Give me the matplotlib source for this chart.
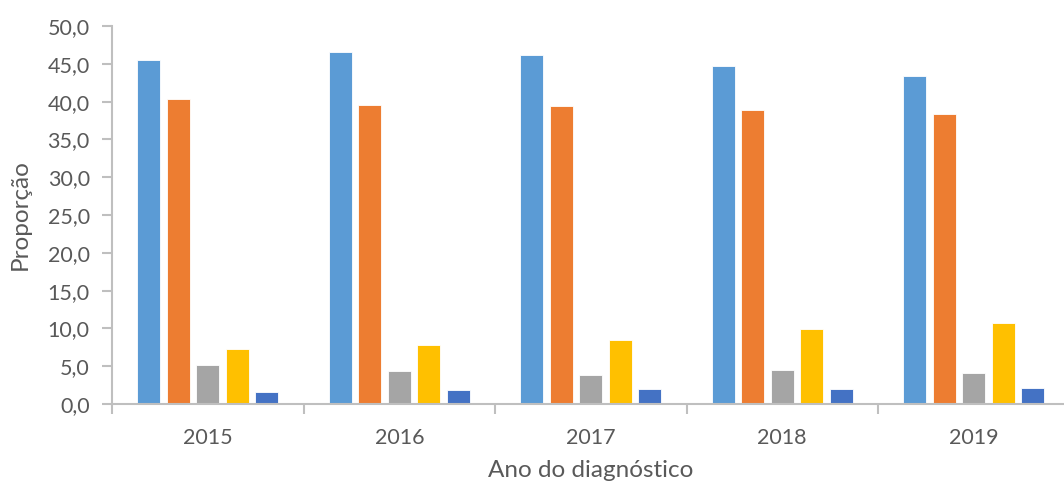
import matplotlib
matplotlib.use("Agg")
import matplotlib.pyplot as plt
from matplotlib.ticker import FixedLocator, FuncFormatter

years = ["2015", "2016", "2017", "2018", "2019"]
serie1 = [45.5, 46.6, 46.2, 44.75, 43.4]
serie2 = [40.3, 39.5, 39.4, 38.9, 38.4]
serie3 = [5.1, 4.4, 3.9, 4.5, 4.1]
serie4 = [7.3, 7.8, 8.4, 9.9, 10.7]
serie5 = [1.65, 1.9, 2.05, 1.95, 2.1]
series = [serie1, serie2, serie3, serie4, serie5]
colors = ["#5B9BD5", "#ED7D31", "#A5A5A5", "#FFC000", "#4472C4"]

plt.rcParams['font.family'] = ['Lato', 'DejaVu Sans']
W, H = 1064, 486
fig = plt.figure(figsize=(W/100, H/100), dpi=100)
ax = fig.add_axes([112/W, (H-404)/H, 957.5/W, 378/H])

slot = 0.154
bw = 0.12
x = list(range(len(years)))
for i, (vals, c) in enumerate(zip(series, colors)):
    off = (i - 2) * slot
    ax.bar([xi + off for xi in x], vals, width=bw, color=c, edgecolor="white", linewidth=0.6, zorder=2)

ax.set_xlim(-0.5, len(years) - 0.5)
ax.set_ylim(0, 50)
ax.set_yticks([0, 5, 10, 15, 20, 25, 30, 35, 40, 45, 50])
ax.yaxis.set_major_formatter(FuncFormatter(lambda v, p: f"{v:.1f}".replace(".", ",")))
ax.set_xticks(x)
ax.set_xticklabels(years)
ax.xaxis.set_minor_locator(FixedLocator([k - 0.5 for k in range(len(years) + 1)]))

spine_c = "#BFBFBF"
for s in ["top", "right"]:
    ax.spines[s].set_visible(False)
for s in ["left", "bottom"]:
    ax.spines[s].set_color(spine_c)
    ax.spines[s].set_linewidth(1.5)

ax.tick_params(axis="y", direction="out", length=7, width=1.5, color=spine_c, labelsize=15.5, labelcolor="#595959", pad=9)
ax.tick_params(axis="x", which="major", length=0, labelsize=15.5, labelcolor="#595959", pad=17)
ax.tick_params(axis="x", which="minor", direction="out", length=7, width=1.5, color=spine_c)

ax.set_ylabel("Proporção", fontsize=17.5, color="#595959", labelpad=12)
ax.set_xlabel("Ano do diagnóstico", fontsize=17.5, color="#595959", labelpad=9)

fig.savefig("out.png", dpi=100)
